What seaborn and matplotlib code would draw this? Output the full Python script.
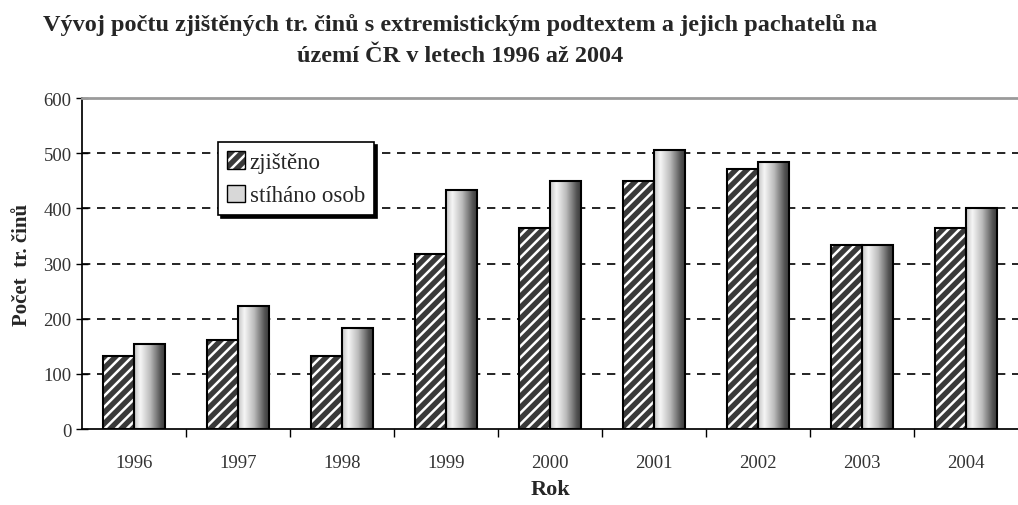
import numpy as np
import pandas as pd
import matplotlib
matplotlib.use('Agg')
import matplotlib.pyplot as plt
import seaborn as sns
from matplotlib.patches import Rectangle, Patch
from matplotlib.colors import LinearSegmentedColormap

# data
roky = ['1996', '1997', '1998', '1999', '2000', '2001', '2002', '2003', '2004']
zjisteno = [132, 161, 132, 318, 365, 450, 472, 334, 364]
stihano = [154, 223, 183, 434, 449, 506, 484, 334, 400]
serie = ['zjištěno', 'stíháno osob']

df = pd.DataFrame({
    'rok': roky * 2,
    'pocet': zjisteno + stihano,
    'typ': [serie[0]] * len(roky) + [serie[1]] * len(roky),
})

sns.set_theme(style='white')
plt.rcParams['font.family'] = ['Liberation Serif', 'DejaVu Serif']
plt.rcParams['hatch.linewidth'] = 1.8

fig = plt.figure(figsize=(10.18, 5.06), dpi=100)
ax = fig.add_axes([0.0806, 0.150, 0.9194, 0.654])

sns.barplot(data=df, x='rok', y='pocet', hue='typ', palette=['#3a3a3a', '#d0d0d0'],
            width=0.6, edgecolor='black', linewidth=1.2, legend=False, ax=ax, zorder=3)

# srafovane sloupce: tmava vypln s bilymi pruhy, cerny obrys
for bar in ax.containers[0]:
    bar.set_edgecolor('white')
    bar.set_hatch('///')
    bar.set_linewidth(0)
    ax.add_patch(Rectangle(bar.get_xy(), bar.get_width(), bar.get_height(), fill=False,
                           edgecolor='black', lw=1.5, zorder=4))

# sloupce s prechodem
grad_cmap = LinearSegmentedColormap.from_list('g', [(0, '#c4c4c4'), (0.2, '#f6f6f6'), (0.5, '#bdbdbd'),
                                                    (0.85, '#505050'), (1.0, '#383838')])
grad = np.linspace(0, 1, 200).reshape(1, -1)
for bar in ax.containers[1]:
    x0, y0 = bar.get_xy()
    ax.imshow(grad, extent=[x0, x0 + bar.get_width(), y0, y0 + bar.get_height()],
              aspect='auto', cmap=grad_cmap, zorder=3.5, interpolation='bilinear')
    ax.add_patch(Rectangle(bar.get_xy(), bar.get_width(), bar.get_height(), fill=False,
                           edgecolor='black', lw=1.5, zorder=4))

ax.set_xlim(-0.5, len(roky) - 0.5)
ax.set_ylim(0, 600)
ax.set_yticks(range(0, 601, 100))

# carkovana mrizka
for v in range(100, 600, 100):
    ax.axhline(v, color='black', lw=1.2, ls=(0, (5, 4)), zorder=1)

ax.spines['right'].set_visible(False)
ax.spines['left'].set_color('black')
ax.spines['bottom'].set_color('black')
ax.spines['top'].set_color('#9a9a9a')
ax.spines['top'].set_linewidth(2)

ax.tick_params(axis='y', which='major', direction='inout', length=9, width=1, color='black',
               labelsize=13.5, labelcolor='#333333', pad=3, left=True)
ax.set_xticks(np.arange(0.5, len(roky) - 0.5, 1), minor=True)
ax.tick_params(axis='x', which='major', length=0, labelsize=13.5, labelcolor='#333333', pad=18)
ax.tick_params(axis='x', which='minor', direction='out', length=6, width=1, color='black', bottom=True)

ax.set_xlabel('Rok', fontsize=16, fontweight='bold', labelpad=6)
ax.set_ylabel('Počet  tr. činů', fontsize=15, fontweight='bold', labelpad=8)

fig.text(0.452, 0.972, 'Vývoj počtu zjištěných tr. činů s extremistickým podtextem a jejich pachatelů na\n'
         'území ČR v letech 1996 až 2004', ha='center', va='top', fontsize=17.5, fontweight='bold',
         linespacing=1.6)

# legenda
h1 = (Patch(facecolor='#3a3a3a', edgecolor='white', hatch='///', lw=0),
      Patch(facecolor='none', edgecolor='black', lw=1))
h2 = Patch(facecolor='#d8d8d8', edgecolor='black', lw=1)
leg = ax.legend([h1, h2], serie, loc='upper left', bbox_to_anchor=(0.145, 0.867),
                fontsize=16.5, frameon=True, fancybox=False, edgecolor='black',
                shadow={'color': 'black', 'alpha': 1}, handlelength=0.8, handleheight=0.8,
                handletextpad=0.2, labelspacing=0.5, borderpad=0.4, borderaxespad=0,
                framealpha=1)
leg.get_frame().set_linewidth(1.2)

plt.savefig('out.png', dpi=100)
